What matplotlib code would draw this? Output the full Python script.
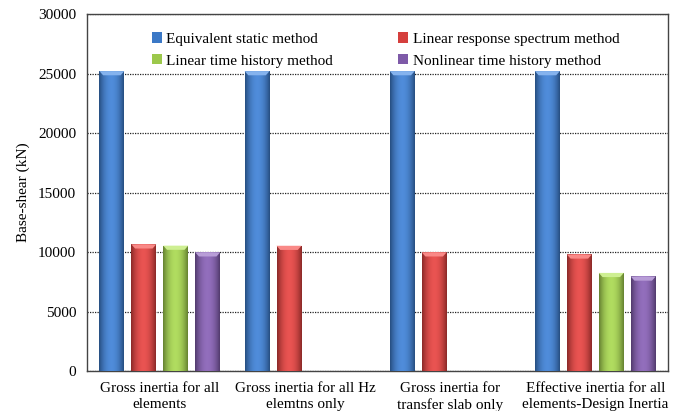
import matplotlib
matplotlib.use("Agg")
import matplotlib.pyplot as plt
import matplotlib.colors as mcolors
import numpy as np

plt.rcParams['font.family'] = ['Liberation Serif', 'DejaVu Serif']

categories = ["Gross inertia for all\nelements", "Gross inertia for all Hz\nelemtns only",
              "Gross inertia for\ntransfer slab only", "Effective inertia for all\nelements-Design Inertia"]
methods = ["Equivalent static method", "Linear response spectrum method",
           "Linear time history method", "Nonlinear time history method"]

static_shear = [25200, 25200, 25200, 25200]
spectrum_shear = [10650, 10530, 9980, 9800]
linear_th_shear = [10540, 0, 0, 8250]
nonlinear_th_shear = [9980, 0, 0, 7950]

colours = ["#3b78c6", "#d53f3d", "#9cc84b", "#7e5aa8"]


def shade_bar(ax, patch, colour):
    # horizontal gradient, dark at the sides, light in the middle
    x0, y0 = patch.get_x(), patch.get_y()
    w, h = patch.get_width(), patch.get_height()
    if h <= 0:
        return
    base = np.array(mcolors.to_rgb(colour))
    t = np.linspace(-1, 1, 64)
    k = 1 - 0.35 * t ** 2
    row = np.clip(base[None, :] * k[:, None] + 0.08 * (1 - t[:, None] ** 2), 0, 1)
    img = np.repeat(row[None, :, :], 2, axis=0)
    im = ax.imshow(img, extent=[x0, x0 + w, y0, y0 + h], aspect='auto',
                   origin='lower', zorder=3, interpolation='bilinear')
    im.set_clip_path(patch)
    # light bevel on the top
    cap = 350
    top = np.clip(base * 0.75 + 0.35, 0, 1)
    ax.fill([x0, x0 + w, x0 + w * 0.85, x0 + w * 0.15], [y0 + h, y0 + h, y0 + h - cap, y0 + h - cap],
            color=top, zorder=4, lw=0)


fig, ax = plt.subplots(figsize=(6.76, 4.11), dpi=100)
fig.subplots_adjust(left=0.129, right=0.988, top=0.966, bottom=0.097)

x = np.arange(len(categories))
slot = 0.22
width = 0.172
series = [static_shear, spectrum_shear, linear_th_shear, nonlinear_th_shear]
handles = []
for i, (vals, col, name) in enumerate(zip(series, colours, methods)):
    bars = ax.bar(x + (i - 1.5) * slot, vals, width, color=col, label=name, zorder=2,
                  edgecolor='none')
    handles.append(bars)
    for b in bars:
        shade_bar(ax, b, col)

ax.set_xlim(-0.5, 3.5)
ax.set_ylim(0, 30000)
ax.set_yticks(np.arange(0, 30001, 5000))
ax.set_xticks(x)
ax.set_xticklabels(categories, fontsize=11, linespacing=1.25)
ax.tick_params(axis='y', labelsize=11, length=0, pad=8)
ax.tick_params(axis='x', length=0, pad=8)
ax.yaxis.grid(True, linestyle=(0, (1, 1)), color='#222222', linewidth=0.9, zorder=0)
ax.set_axisbelow(True)
ax.set_ylabel("Base-shear (kN)", fontsize=11, labelpad=6)
for s in ax.spines.values():
    s.set_color('#444444')
    s.set_linewidth(1.0)

# two rows: static / spectrum on top, the time history methods below
order = [0, 2, 1, 3]
ax.legend([handles[k] for k in order], [methods[k] for k in order],
          loc='upper left', bbox_to_anchor=(0.106, 0.957), ncol=2, frameon=True,
          facecolor='white', edgecolor='none', framealpha=1, fontsize=11,
          handlelength=0.65, handleheight=0.65, handletextpad=0.3, columnspacing=4.25,
          labelspacing=0.55, borderpad=0.2, borderaxespad=0)

fig.savefig("out.png", dpi=100)
